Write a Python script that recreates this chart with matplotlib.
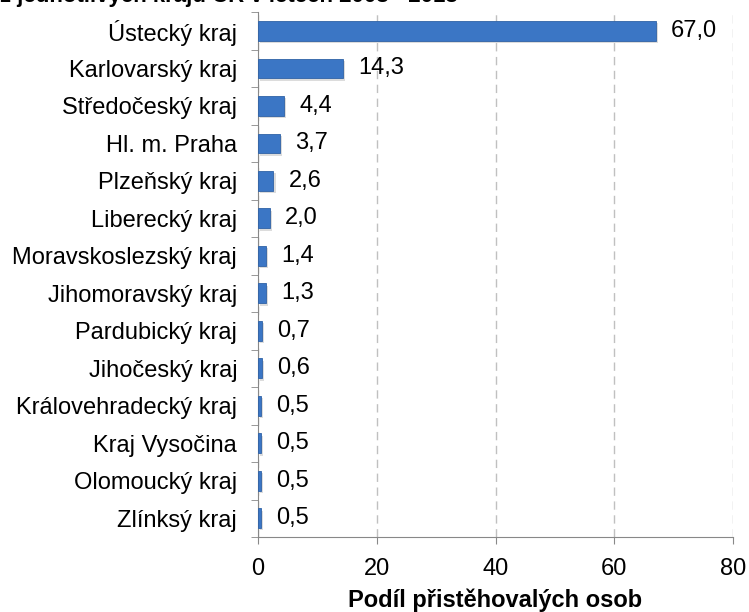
import matplotlib
matplotlib.use('Agg')
import matplotlib.pyplot as plt
import numpy as np

plt.rcParams['font.family'] = ['Liberation Sans', 'DejaVu Sans']

regions = ['Ústecký kraj', 'Karlovarský kraj', 'Středočeský kraj', 'Hl. m. Praha',
           'Plzeňský kraj', 'Liberecký kraj', 'Moravskoslezský kraj', 'Jihomoravský kraj',
           'Pardubický kraj', 'Jihočeský kraj', 'Královehradecký kraj', 'Kraj Vysočina',
           'Olomoucký kraj', 'Zlínksý kraj']
shares = [67.0, 14.3, 4.4, 3.7, 2.6, 2.0, 1.4, 1.3, 0.7, 0.6, 0.5, 0.5, 0.5, 0.5]
x_ticks = [0, 20, 40, 60, 80]
title = 'z jednotlivých krajů ČR v letech 2008 - 2013'
x_title = 'Podíl přistěhovalých osob'

fs = 17

fig = plt.figure(figsize=(7.49, 6.12), dpi=100)
ax = fig.add_axes([0.3445, 0.1225, 0.6342, 0.8575])

y = np.arange(len(regions))
# light shadow behind bars
ax.barh(y + 0.06, shares, height=0.53, left=0.35, color='#bbbbbb', alpha=0.5, zorder=2)
bars = ax.barh(y, shares, height=0.53, color='#3b76c5', edgecolor='#2f62a6', linewidth=0.6, zorder=3)

for bar, v in zip(bars, shares):
    ax.annotate('{:.1f}'.format(v).replace('.', ','),
                (bar.get_width(), bar.get_y() + bar.get_height() / 2),
                xytext=(11, 0), textcoords='offset points',
                ha='left', va='center', fontsize=fs)

ax.set_xlim(0, 80)
ax.set_ylim(len(regions) - 0.5, -0.5)
ax.set_xticks(x_ticks)
ax.set_xticklabels([str(t) for t in x_ticks], fontsize=fs)
ax.set_yticks(y)
ax.set_yticklabels(regions, fontsize=fs)
ax.set_yticks(np.arange(-0.5, len(regions)), minor=True)
ax.tick_params(axis='y', which='major', length=0, pad=15)
ax.tick_params(axis='y', which='minor', length=5, color='#888888', direction='out')
ax.tick_params(axis='x', length=5, color='#888888', direction='out', pad=10)

ax.grid(True, axis='x', linestyle=(0, (6, 4)), color='#c0c0c0', linewidth=1.0, zorder=0)
ax.set_axisbelow(True)
for side in ['top', 'right']:
    ax.spines[side].set_visible(False)
ax.spines['left'].set_color('#888888')
ax.spines['bottom'].set_color('#888888')

ax.set_xlabel(x_title, fontsize=fs, fontweight='bold', labelpad=6)
# title is cropped at the top edge in the reference, only its lower part shows
fig.text(0.0, 1 - 2 / 612, title, fontsize=16, fontweight='bold', ha='left', va='baseline')

fig.savefig('out.png', dpi=100)
